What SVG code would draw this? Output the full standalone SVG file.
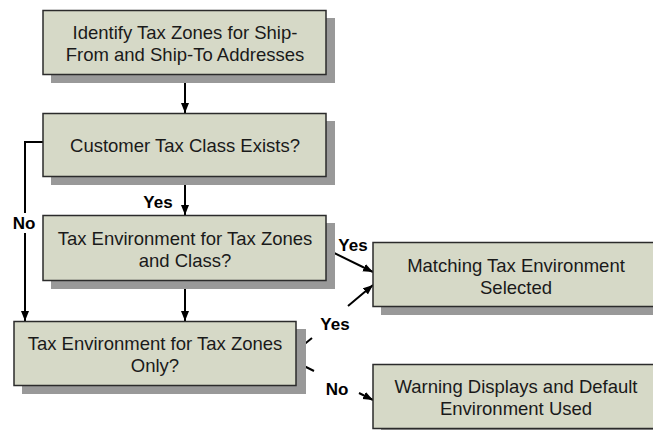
<svg xmlns="http://www.w3.org/2000/svg" width="653" height="430" viewBox="0 0 653 430">
<defs>
<style>
.shadow{fill:#999999;}
.box{fill:#D6D9C7;stroke:#2b2b2b;stroke-width:1.5;}
.t{font-family:"Liberation Sans",Arial,sans-serif;font-size:18.5px;fill:#1a1a1a;text-anchor:middle;}
.lbl{font-family:"Liberation Sans",Arial,sans-serif;font-size:17px;font-weight:bold;fill:#000;text-anchor:middle;}
.c{fill:none;stroke:#000;stroke-width:2;}
</style>
<marker id="arr" markerUnits="userSpaceOnUse" markerWidth="11" markerHeight="9" refX="10" refY="4" orient="auto">
<path d="M0,0 L10,4 L0,8 z" fill="#000"/>
</marker>
</defs>
<rect width="653" height="430" fill="#ffffff"/>

<g id="connectors">
<path class="c" d="M185,75 L185,113" marker-end="url(#arr)"/>
<path class="c" d="M43,142 L25,142 L25,321" marker-end="url(#arr)"/>
<path class="c" d="M185,177 L185,215" marker-end="url(#arr)"/>
<path class="c" d="M185,281 L185,321" marker-end="url(#arr)"/>
<path class="c" d="M326,249 L373,272" marker-end="url(#arr)"/>
<path class="c" d="M296,351 L312,338 M348,306 L373,285" marker-end="url(#arr)"/>
<path class="c" d="M296,362 L314,371 M359,393 L373,400" marker-end="url(#arr)"/>
<rect x="11" y="213" width="27" height="20" fill="#ffffff"/>
<text class="lbl" x="24" y="229">No</text>
<text class="lbl" x="158" y="208">Yes</text>
<text class="lbl" x="353" y="251">Yes</text>
<text class="lbl" x="335" y="330">Yes</text>
<text class="lbl" x="337" y="395">No</text>
</g>

<g id="node-identify">
<rect class="shadow" x="51" y="18" width="284" height="65"/>
<rect class="box" x="43" y="10.5" width="283" height="64"/>
<text class="t" x="185" y="39">Identify Tax Zones for Ship-</text>
<text class="t" x="185" y="61">From and Ship-To Addresses</text>
</g>

<g id="node-customer-class">
<rect class="shadow" x="51" y="121" width="284" height="64"/>
<rect class="box" x="43" y="113.5" width="283" height="63"/>
<text class="t" x="185" y="152">Customer Tax Class Exists?</text>
</g>

<g id="node-env-zones-class">
<rect class="shadow" x="51" y="223" width="284" height="66"/>
<rect class="box" x="43" y="215.5" width="283" height="65"/>
<text class="t" x="185" y="245">Tax Environment for Tax Zones</text>
<text class="t" x="185" y="267">and Class?</text>
</g>

<g id="node-env-zones-only">
<rect class="shadow" x="22" y="329" width="284" height="65"/>
<rect class="box" x="14" y="321.5" width="282" height="64"/>
<text class="t" x="155" y="350">Tax Environment for Tax Zones</text>
<text class="t" x="155" y="372">Only?</text>
</g>

<g id="node-matching">
<rect class="shadow" x="381" y="250" width="290" height="65"/>
<rect class="box" x="373" y="242.5" width="290" height="64"/>
<text class="t" x="516" y="272">Matching Tax Environment</text>
<text class="t" x="516" y="294">Selected</text>
</g>

<g id="node-warning">
<rect class="shadow" x="381" y="372" width="290" height="65"/>
<rect class="box" x="373" y="364.5" width="290" height="64"/>
<text class="t" x="516" y="393">Warning Displays and Default</text>
<text class="t" x="516" y="415">Environment Used</text>
</g>
</svg>
